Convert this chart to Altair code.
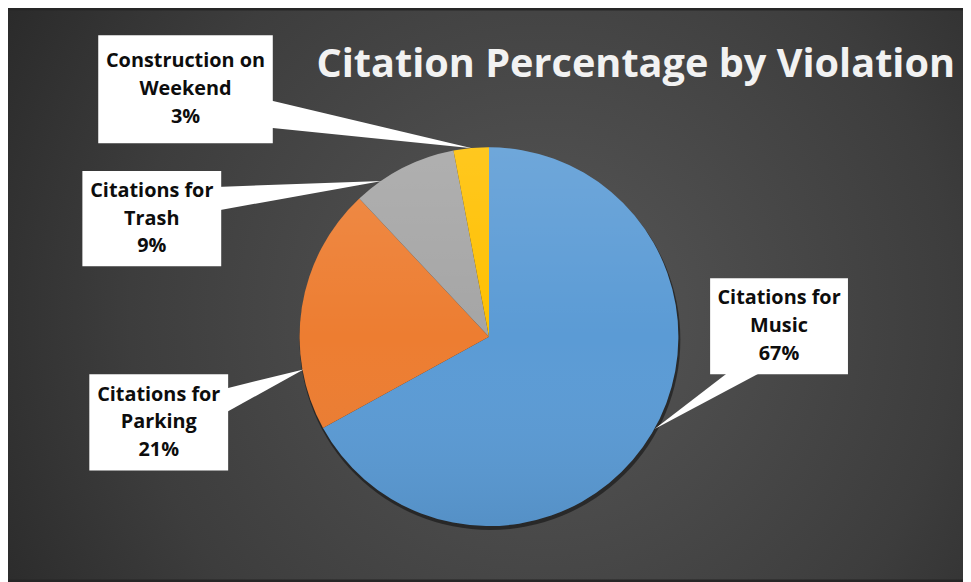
import altair as alt
import pandas as pd

# ---- data ----
line1 = ["Citations for", "Citations for", "Citations for", "Construction on"]
line2 = ["Music", "Parking", "Trash", "Weekend"]
categories = [a + " " + b for a, b in zip(line1, line2)]
percent = [67, 21, 9, 3]
colors = ["#5B9BD5", "#ED7D31", "#A5A5A5", "#FFC000"]
title_text = "Citation Percentage by Violation"

# ---- layout (pixels, chart coordinates) ----
W, H = 963, 574
CX, CY, R = 485, 329, 191

box_x0 = [708, 82, 75, 91]
box_x1 = [847, 222, 215, 267]
box_y0 = [270, 367, 162, 25]
box_y1 = [367, 464, 258, 134]

# callout wedges: vertical-base ones (x, y, y2) and horizontal-base (y, x, x2)
wedge_v = pd.DataFrame({
    "lab": ["c", "c", "t", "t", "p", "p"],
    "x": [262, 468, 210, 377, 217, 298],
    "y": [90, 139, 178, 172, 382, 362],
    "y2": [118, 139, 202, 172, 407, 362],
})
wedge_h = pd.DataFrame({
    "lab": ["m", "m"],
    "y": [362, 422],
    "x": [730, 652],
    "x2": [765, 652],
})

xs = alt.Scale(domain=[0, W], range=[0, W], nice=False, zero=False)
ys = alt.Scale(domain=[0, H], range=[0, H], nice=False, zero=False)

one = pd.DataFrame({"v": [1]})

bg = alt.Chart(one).mark_rect(
    color=alt.RadialGradient(
        gradient="radial",
        stops=[alt.GradientStop(color="#575757", offset=0),
               alt.GradientStop(color="#3d3d3d", offset=0.6),
               alt.GradientStop(color="#242424", offset=1)],
        x1=0.56, y1=0.52, r1=0, x2=0.56, y2=0.52, r2=0.72,
    )
).encode(x=alt.value(0), x2=alt.value(W), y=alt.value(0), y2=alt.value(H))

pie_df = pd.DataFrame({"cat": categories, "pct": percent, "idx": list(range(len(percent)))})

shadow = alt.Chart(one).mark_arc(radius=R + 1, color="#000000", opacity=0.45).encode(
    theta=alt.Theta("v:Q", scale=alt.Scale(domain=[0, 1])), x=alt.value(CX + 1), y=alt.value(CY + 3)
)

pie = alt.Chart(pie_df).mark_arc(radius=R).encode(
    theta=alt.Theta("pct:Q", stack=True),
    color=alt.Color("cat:N", scale=alt.Scale(domain=categories, range=colors), legend=None),
    order=alt.Order("idx:Q"),
    x=alt.value(CX), y=alt.value(CY),
)

sheen = alt.Chart(one).mark_arc(
    radius=R,
    color=alt.LinearGradient(
        gradient="linear",
        stops=[alt.GradientStop(color="rgba(255,255,255,0.12)", offset=0),
               alt.GradientStop(color="rgba(255,255,255,0)", offset=0.5),
               alt.GradientStop(color="rgba(0,0,0,0.07)", offset=1)],
        x1=0, x2=0, y1=0, y2=1,
    ),
).encode(theta=alt.Theta("v:Q", scale=alt.Scale(domain=[0, 1])), x=alt.value(CX), y=alt.value(CY))

wv = alt.Chart(wedge_v).mark_area(color="white").encode(
    x=alt.X("x:Q", scale=xs, axis=None),
    y=alt.Y("y:Q", scale=ys, axis=None, stack=None),
    y2="y2:Q",
    detail="lab:N",
)
wh = alt.Chart(wedge_h).mark_area(color="white", orient="horizontal").encode(
    y=alt.Y("y:Q", scale=ys, axis=None),
    x=alt.X("x:Q", scale=xs, axis=None, stack=None),
    x2="x2:Q",
    detail="lab:N",
)

box_df = pd.DataFrame({"x0": box_x0, "x1": box_x1, "y0": box_y0, "y1": box_y1})
boxes = alt.Chart(box_df).mark_rect(color="white").encode(
    x=alt.X("x0:Q", scale=xs, axis=None), x2="x1:Q",
    y=alt.Y("y0:Q", scale=ys, axis=None), y2="y1:Q",
)

rows = []
for i in range(len(categories)):
    cx = (box_x0[i] + box_x1[i]) / 2
    cy = (box_y0[i] + box_y1[i]) / 2
    for j, t in enumerate([line1[i], line2[i], f"{percent[i]}%"]):
        rows.append({"t": t, "x": cx, "y": cy + (j - 1) * 28})
lab_df = pd.DataFrame(rows)
labels = alt.Chart(lab_df).mark_text(
    font="Open Sans", fontWeight="bold", fontSize=20, color="#0d0d0d",
    align="center", baseline="middle",
).encode(
    x=alt.X("x:Q", scale=xs, axis=None),
    y=alt.Y("y:Q", scale=ys, axis=None),
    text="t:N",
)

title = alt.Chart(one).mark_text(
    text=title_text, font="Open Sans", fontWeight="bold", fontSize=40,
    color="#f2f2f2", align="center", baseline="alphabetic",
).encode(x=alt.value(633), y=alt.value(67))

chart = alt.layer(
    bg, shadow, pie, sheen, wv, wh, boxes, labels, title
).resolve_scale(theta="independent").properties(
    width=W, height=H, padding=0,
    autosize=alt.AutoSizeParams(type="none"),
    background="#262626",
).configure_view(stroke=None)

chart.save("out.html", embed_options={"renderer": "svg", "actions": False})
